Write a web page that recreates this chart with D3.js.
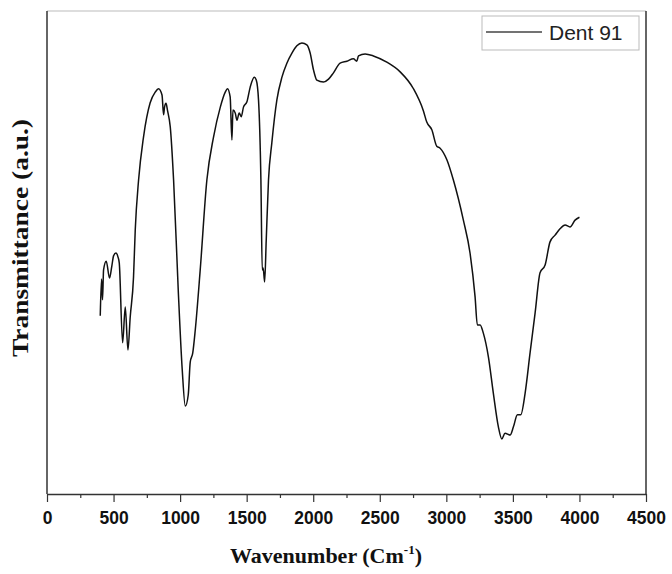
<!DOCTYPE html>
<html>
<head>
<meta charset="utf-8">
<script src="https://cdn.jsdelivr.net/npm/d3@7"></script>
<style>
  body { margin: 0; background: #fff; }
  svg { display: block; }
</style>
</head>
<body>
<svg id="chart" width="672" height="574"></svg>
<script>
// FTIR spectrum, Dent 91
var wavenumber = [400, 410, 417, 425, 445, 470, 487, 500, 518, 533, 543, 568, 588, 608, 625, 650, 663, 688, 725, 775,
  813, 838, 864, 876, 883, 894, 906, 926, 951, 986, 1016, 1039, 1061, 1076, 1095, 1114, 1151, 1201, 1251, 1302,
  1339, 1356, 1376, 1389, 1397, 1414, 1427, 1444, 1459, 1476, 1502, 1527, 1557, 1572, 1589, 1607, 1617, 1624, 1635, 1647,
  1664, 1689, 1727, 1765, 1802, 1840, 1877, 1915, 1952, 1977, 2002, 2027, 2077, 2115, 2152, 2202, 2253, 2302, 2327, 2340,
  2390, 2452, 2553, 2653, 2753, 2828, 2853, 2891, 2928, 2953, 3004, 3053, 3128, 3178, 3216, 3233, 3254, 3278, 3316, 3353,
  3391, 3417, 3441, 3479, 3504, 3534, 3559, 3592, 3629, 3667, 3704, 3742, 3779, 3817, 3854, 3892, 3929, 3967, 4000];
var transmittance = [36.9, 44.5, 40.2, 46.4, 48.2, 44.7, 47.2, 49.3, 49.9, 49.1, 47.8, 31.3, 38.7, 29.8, 36.6, 44.9, 54.7, 65.0, 73.9, 81.0,
  83.2, 83.9, 82.6, 78.5, 80.1, 80.9, 79.3, 76.0, 65.0, 42.2, 25.7, 18.2, 20.5, 27.3, 29.2, 34.0, 46.4, 65.0, 73.9, 80.1,
  83.2, 83.9, 82.2, 73.3, 79.5, 78.9, 77.4, 78.9, 78.1, 80.1, 81.2, 84.3, 86.3, 85.7, 81.6, 65.0, 46.4, 46.8, 43.9, 52.6,
  65.0, 72.7, 81.6, 86.3, 89.2, 91.3, 92.8, 93.4, 93.0, 91.3, 87.8, 85.7, 85.3, 85.9, 87.2, 89.2, 89.6, 90.1, 89.6, 90.7,
  91.1, 90.7, 89.4, 87.4, 83.9, 79.3, 77.0, 75.4, 72.0, 71.6, 69.2, 65.0, 56.7, 49.9, 40.8, 35.0, 35.0, 33.3, 28.4, 20.9,
  13.9, 11.4, 12.6, 12.2, 13.9, 16.4, 16.4, 20.9, 29.2, 37.5, 45.8, 47.4, 52.2, 53.6, 54.9, 55.7, 55.3, 56.7, 57.3];
var xTicks = [0, 500, 1000, 1500, 2000, 2500, 3000, 3500, 4000, 4500];
var seriesName = "Dent 91";

var svg = d3.select("#chart");
var margin = {left: 47, right: 26, top: 11, bottom: 80};
var W = 672, H = 574;

var x = d3.scaleLinear().domain([0, 4500]).range([margin.left, W - margin.right]);
var y = d3.scaleLinear().domain([0, 100]).range([H - margin.bottom, margin.top]);

var pts = wavenumber.map((d, i) => ({wn: d, t: transmittance[i]}));

// frame: top light, right / left / bottom dark
svg.append("line").attr("x1", x(0)).attr("x2", x(4500)).attr("y1", y(100)).attr("y2", y(100))
  .style("stroke", "#bbb").style("stroke-width", 1);
svg.append("line").attr("x1", x(4500)).attr("x2", x(4500)).attr("y1", y(100)).attr("y2", y(0))
  .style("stroke", "#333").style("stroke-width", 1.5);
svg.append("line").attr("x1", x(0)).attr("x2", x(0)).attr("y1", y(100)).attr("y2", y(0))
  .style("stroke", "#333").style("stroke-width", 1.5);

// minor ticks
svg.append("g").attr("transform", "translate(0," + y(0) + ")")
  .call(d3.axisBottom(x).tickValues(d3.range(250, 4500, 500)).tickSize(4).tickFormat(""))
  .call(g => g.select(".domain").remove())
  .selectAll("line").style("stroke", "#333").style("stroke-width", 1.2);

// major axis
var xa = svg.append("g").attr("transform", "translate(0," + y(0) + ")")
  .call(d3.axisBottom(x).tickValues(xTicks).tickFormat(d3.format("d"))
    .tickSize(8).tickSizeOuter(0).tickPadding(9));
xa.select(".domain").style("stroke", "#333").style("stroke-width", 1.5);
xa.selectAll(".tick line").style("stroke", "#333").style("stroke-width", 1.2);
xa.selectAll(".tick text").style("font-family", "Arial, 'Liberation Sans', sans-serif")
  .style("font-weight", "bold").style("font-size", "19px").style("fill", "#111")
  .attr("transform", "scale(0.92,1)");

// spectrum
var line = d3.line().x(d => x(d.wn)).y(d => y(d.t)).curve(d3.curveMonotoneX);
svg.append("path").datum(pts).attr("d", line)
  .style("fill", "none").style("stroke", "#111").style("stroke-width", 1.5);

// axis titles
var xt = svg.append("text").attr("x", 326).attr("y", 563)
  .attr("text-anchor", "middle")
  .style("font-family", "'Times New Roman', 'Liberation Serif', serif")
  .style("font-weight", "bold").style("font-size", "22px").style("fill", "#111");
xt.append("tspan").text("Wavenumber (Cm");
xt.append("tspan").attr("dy", -9).style("font-size", "13px").text("-1");
xt.append("tspan").attr("dy", 9).text(")");

svg.append("text").attr("transform", "translate(28," + 238 + ") rotate(-90)")
  .attr("text-anchor", "middle")
  .attr("textLength", 238).attr("lengthAdjust", "spacingAndGlyphs")
  .style("font-family", "'Times New Roman', 'Liberation Serif', serif")
  .style("font-weight", "bold").style("font-size", "23px").style("fill", "#111")
  .text("Transmittance (a.u.)");

// legend
var lg = svg.append("g");
lg.append("rect").attr("x", 482).attr("y", 16).attr("width", 157).attr("height", 34)
  .style("fill", "#fff").style("stroke", "#bbb").style("stroke-width", 1);
lg.append("line").attr("x1", 486).attr("x2", 542).attr("y1", 32).attr("y2", 32)
  .style("stroke", "#444").style("stroke-width", 1.6);
lg.append("text").attr("x", 549).attr("y", 40).text(seriesName)
  .style("font-family", "Arial, 'Liberation Sans', sans-serif")
  .style("font-size", "21px").style("fill", "#222");
</script>
</body>
</html>
